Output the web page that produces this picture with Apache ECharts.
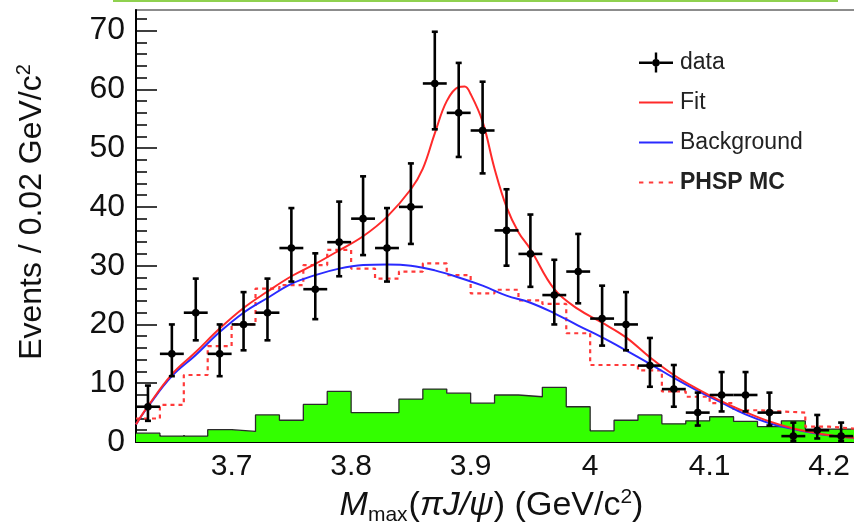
<!DOCTYPE html>
<html><head><meta charset="utf-8">
<script src="https://cdn.jsdelivr.net/npm/echarts@6/dist/echarts.min.js"></script>
<style>html,body{margin:0;padding:0;background:#fff}#c{width:854px;height:522px}</style>
</head><body><div id="c"></div>
<script>
// ---- data ----
const binCenters = [3.63,3.65,3.67,3.69,3.71,3.73,3.75,3.77,3.79,3.81,3.83,3.85,3.87,3.89,3.91,3.93,3.95,3.97,3.99,4.01,4.03,4.05,4.07,4.09,4.11,4.13,4.15,4.17,4.19,4.21];
const dataCounts = [6,15,22,15,20,22,33,26,34,38,33,40,61,56,53,36,32,25,29,21,20,13,9,5,8,8,5,1,2,1];
const errUp   = [3.6,5.0,5.8,5.0,5.5,5.8,6.8,6.1,6.9,7.2,6.8,7.4,8.8,8.5,8.3,7.0,6.7,6.0,6.4,5.6,5.5,4.7,4.1,3.4,3.9,3.9,3.4,2.3,2.6,2.3];
const errDown = [2.4,3.8,4.7,3.8,4.4,4.7,5.7,5.1,5.8,6.2,5.7,6.3,7.8,7.5,7.3,6.0,5.6,5.0,5.4,4.6,4.4,3.6,3.0,2.2,2.8,2.8,2.2,0.8,1.4,0.8];
const binHalfWidth = 0.01;

const binEdges = [3.62,3.64,3.66,3.68,3.70,3.72,3.74,3.76,3.78,3.80,3.82,3.84,3.86,3.88,3.90,3.92,3.94,3.96,3.98,4.00,4.02,4.04,4.06,4.08,4.10,4.12,4.14,4.16,4.18,4.20,4.22,4.24];
const greenHist = [1.5,1.0,1.0,2.1,1.8,4.6,3.7,6.4,8.6,5.0,5.0,7.3,9.0,8.3,6.6,8.0,7.7,9.3,6.0,1.9,3.7,4.6,3.1,3.6,4.3,3.5,2.6,3.6,2.2,2.2,2.2];
const phspHist  = [4.0,6.3,11.4,16.3,20.0,26.1,26.7,30.1,32.7,29.5,27.8,29.0,30.4,28.4,25.3,25.9,24.1,23.5,18.5,13.1,13.1,12.2,8.6,7.7,6.6,5.4,5.2,5.0,2.6,2.3,2.0];

const fitX = [3.62,3.63,3.65,3.67,3.69,3.71,3.73,3.75,3.77,3.79,3.81,3.83,3.85,3.86,3.87,3.88,3.89,3.895,3.90,3.91,3.92,3.93,3.94,3.95,3.97,3.99,4.01,4.03,4.05,4.07,4.09,4.11,4.13,4.15,4.17,4.19,4.21,4.23];
const fitY = [3.0,6.1,11.5,15.3,19.3,22.8,25.6,28.2,30.3,32.6,35.0,38.3,43.0,46.5,52.5,58.0,60.4,60.5,59.2,54.5,46.5,40.0,35.7,32.8,26.0,22.6,20.3,17.8,14.4,11.4,9.0,6.9,5.1,3.5,2.3,1.5,0.9,0.6];

const bkgX = [3.62,3.63,3.65,3.67,3.69,3.71,3.73,3.75,3.77,3.79,3.81,3.83,3.85,3.87,3.89,3.91,3.93,3.95,3.97,3.99,4.01,4.03,4.05,4.07,4.09,4.11,4.13,4.15,4.17,4.19,4.21,4.23];
const bkgY = [3.0,6.0,11.2,14.8,18.7,22.0,24.5,26.9,28.4,29.5,30.1,30.2,30.0,29.2,28.0,26.6,24.9,23.7,21.9,19.8,17.8,15.6,13.3,10.9,8.7,6.7,4.7,3.2,2.2,1.4,0.9,0.6];

const xTickLabels = [3.7,3.8,3.9,4.0,4.1,4.2];
const yTickLabels = [0,10,20,30,40,50,60,70];

// ---- build ----
const X_MIN = 3.62, X_MAX = 4.24, Y_MIN = 0, Y_MAX = 73.5;
const xMinor = []; for (let i = 0; i <= 31; i++) xMinor.push(+(3.62 + i*0.02).toFixed(2));
const yMinor = []; for (let v = 0; v <= 72; v += 2) yMinor.push(v);

function stepData(vals){
  const d = vals.map((v,i)=>[binEdges[i], v]);
  d.push([binEdges[binEdges.length-1], vals[vals.length-1]]);
  return d;
}
const FONT = "'Liberation Sans', Arial, Helvetica, sans-serif";
const chart = echarts.init(document.getElementById('c'), null, {renderer:'canvas'});
const dataIcon = 'path://M0,9 L13.2,9 L13.2,11.4 L0,11.4 Z M20.8,9 L34,9 L34,11.4 L20.8,11.4 Z M15.8,0 L18.2,0 L18.2,6.4 L15.8,6.4 Z M15.8,14 L18.2,14 L18.2,20 L15.8,20 Z M13.2,10.2 A3.8,3.8 0 1,1 20.8,10.2 A3.8,3.8 0 1,1 13.2,10.2 Z';

const option = {
  animation:false,
  backgroundColor:'#fff',
  textStyle:{fontFamily:FONT},
  graphic:[
    {type:'line', shape:{x1:113,y1:0.5,x2:838,y2:0.5}, style:{stroke:'#8fd14f', lineWidth:3}, z:100}
  ],
  grid:{left:136, top:10, width:741, bottom:80, show:true, borderColor:'#8c8c8c', borderWidth:2, containLabel:false, outerBoundsMode:'none'},
  legend:{
    orient:'vertical', left:634, top:46, itemWidth:34, itemHeight:20, itemGap:17,
    textStyle:{fontSize:23, lineHeight:20, color:'#222', fontFamily:FONT, padding:[0,0,0,2]},
    data:[
      {name:'data', icon:dataIcon, itemStyle:{color:'#000'}},
      {name:'Fit', icon:'path://M0,9 L34,9 L34,11 L0,11 Z', itemStyle:{color:'#ff2a2a'}},
      {name:'Background', icon:'path://M0,9 L34,9 L34,11 L0,11 Z', itemStyle:{color:'#2a2aff'}},
      {name:'PHSP MC', icon:'path://M0,9 L4,9 L4,11 L0,11 Z M9,9 L13,9 L13,11 L9,11 Z M18,9 L22,9 L22,11 L18,11 Z M27,9 L31,9 L31,11 L27,11 Z', itemStyle:{color:'#ff3a3a'}, textStyle:{fontWeight:'bold'}}
    ]
  },
  xAxis:[
    {type:'value', min:X_MIN, max:X_MAX, position:'bottom',
     axisLine:{show:true, onZero:false, lineStyle:{color:'#000', width:2}},
     axisTick:{show:true, inside:true, length:13, customValues:xTickLabels, lineStyle:{color:'#000', width:1.5}},
     axisLabel:{show:true, customValues:xTickLabels, margin:10, fontSize:30, color:'#111', fontFamily:FONT,
       formatter:v=>String(Math.round(v*10)/10)},
     splitLine:{show:false},
     name:'{i|M}{s|max}{n|(}{i|πJ/ψ}{n|) (GeV/c}{p|2}{n|)}', nameLocation:'middle', nameGap:33,
     nameTextStyle:{padding:[0,30,0,0], rich:{
       i:{fontSize:34, fontStyle:'italic', fontFamily:FONT, color:'#111'},
       n:{fontSize:34, fontFamily:FONT, color:'#111'},
       s:{fontSize:21, fontFamily:FONT, color:'#111', padding:[19,1,0,0]},
       p:{fontSize:21, fontFamily:FONT, color:'#111', padding:[0,0,17,0]}
     }}
    },
    {type:'value', min:X_MIN, max:X_MAX, position:'bottom',
     axisLine:{show:false},
     axisTick:{show:true, inside:true, length:7, customValues:xMinor, lineStyle:{color:'#000', width:1.5}},
     axisLabel:{show:false}, splitLine:{show:false}}
  ],
  yAxis:[
    {type:'value', min:Y_MIN, max:Y_MAX, position:'left',
     axisLine:{show:true, onZero:false, lineStyle:{color:'#000', width:2}},
     axisTick:{show:true, inside:true, length:21, customValues:yTickLabels, lineStyle:{color:'#000', width:1.5}},
     axisLabel:{show:true, customValues:yTickLabels, margin:11, fontSize:32, color:'#111', fontFamily:FONT},
     splitLine:{show:false},
     name:'Events / 0.02 GeV/c{p|2}', nameLocation:'middle', nameGap:86, nameRotate:90,
     nameTextStyle:{fontSize:32, color:'#111', fontFamily:FONT, padding:[0,0,0,28], rich:{p:{fontSize:20, fontFamily:FONT, color:'#111', padding:[0,0,16,0]}}}
    },
    {type:'value', min:Y_MIN, max:Y_MAX, position:'left',
     axisLine:{show:false},
     axisTick:{show:true, inside:true, length:11, customValues:yMinor, lineStyle:{color:'#000', width:1.5}},
     axisLabel:{show:false}, splitLine:{show:false}}
  ],
  series:[
    {name:'bkg-hist', type:'line', step:'end', data:stepData(greenHist), symbol:'none', z:1,
     lineStyle:{color:'#2b2b2b', width:1.3}, areaStyle:{color:'#33ff00', opacity:1}, silent:true},
    {name:'PHSP MC', type:'line', step:'end', data:stepData(phspHist), symbol:'none', z:2,
     lineStyle:{color:'#ff3a3a', width:2.2, type:[4,4]}, itemStyle:{color:'#ff3a3a'}},
    {name:'Background', type:'line', data:bkgX.map((x,i)=>[x,bkgY[i]]), symbol:'none', smooth:0.4, z:3,
     lineStyle:{color:'#2a2aff', width:2}, itemStyle:{color:'#2a2aff'}},
    {name:'Fit', type:'line', data:fitX.map((x,i)=>[x,fitY[i]]), symbol:'none', smooth:0.4, z:4,
     lineStyle:{color:'#ff2a2a', width:2}, itemStyle:{color:'#ff2a2a'}},
    {name:'data', type:'custom', z:5, clip:true, itemStyle:{color:'#000'},
     data:binCenters.map((x,i)=>[x,dataCounts[i],errDown[i],errUp[i]]),
     renderItem:function(params, api){
       const x = api.value(0), y = api.value(1), dn = api.value(2), up = api.value(3);
       const c = api.coord([x,y]);
       const top = api.coord([x,y+up]), bot = api.coord([x,y-dn]);
       const l = api.coord([x-binHalfWidth,y]), r = api.coord([x+binHalfWidth,y]);
       const st = {stroke:'#000', lineWidth:2.6};
       return {type:'group', children:[
         {type:'line', shape:{x1:c[0],y1:top[1],x2:c[0],y2:bot[1]}, style:st},
         {type:'line', shape:{x1:c[0]-3,y1:top[1],x2:c[0]+3,y2:top[1]}, style:st},
         {type:'line', shape:{x1:c[0]-3,y1:bot[1],x2:c[0]+3,y2:bot[1]}, style:st},
         {type:'line', shape:{x1:l[0],y1:c[1],x2:r[0],y2:c[1]}, style:st},
         {type:'circle', shape:{cx:c[0],cy:c[1],r:3.8}, style:{fill:'#000'}}
       ]};
     }}
  ]
};
chart.setOption(option);
</script></body></html>
